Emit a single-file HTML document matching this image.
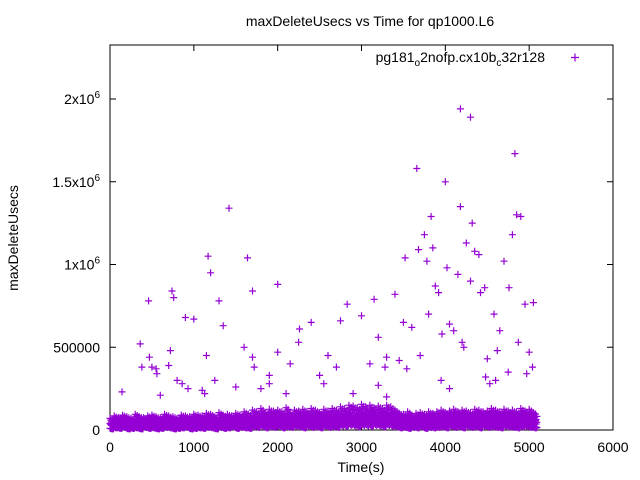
<!DOCTYPE html>
<html><head><meta charset="utf-8">
<style>
html,body{margin:0;padding:0;background:#fff;}
svg{display:block;font-family:"Liberation Sans",sans-serif;}
</style></head>
<body>
<svg id="chart" width="640" height="480" viewBox="0 0 640 480" xmlns="http://www.w3.org/2000/svg">
<text x="370" y="26" font-size="14" text-anchor="middle">maxDeleteUsecs vs Time for qp1000.L6</text>
<text transform="translate(18,238) rotate(-90)" font-size="14" text-anchor="middle">maxDeleteUsecs</text>
<text x="361" y="472" font-size="14" text-anchor="middle">Time(s)</text>
<g id="axes"></g>
<g id="marks"></g>
<g>
<text x="545" y="62" font-size="14" text-anchor="end">pg181<tspan font-size="10" dy="4">o</tspan><tspan dy="-4">2nofp.cx10b</tspan><tspan font-size="10" dy="4">c</tspan><tspan dy="-4">32r128</tspan></text>
<path d="M571 57.5h8M575 53.5v8" stroke="#9400d3" stroke-width="1.2"/>
</g>
</svg>
<script>
const xTicks = [0,1000,2000,3000,4000,5000,6000];
const yTicks = [0,500000,1000000,1500000,2000000];
const yTickLabels = ["0","500000","1x10|6","1.5x10|6","2x10|6"];
const bandStep = 50;
const bandHigh = [70,85,75,90,80,70,95,80,75,85,90,80,75,95,85,80,70,90,85,80,95,
90,85,100,95,80,105,90,95,85,100,90,110,95,
120,110,130,105,125,115,120,110,135,100,120,115,125,110,130,120,105,125,115,130,120,
140,130,150,145,135,155,140,150,135,145,130,150,140,
120,100,95,110,90,100,105,95,110,100,
110,120,105,115,125,110,120,115,105,125,120,110,115,130,120,110,125,115,120,110,130,115,125,105];
const bandMid = [40,50,45,55,40,35,50,45,40,55,45,50,40,55,45,50,40,45,50,45,55,
50,45,60,55,45,60,50,55,45,60,50,65,55,
65,60,70,55,65,60,70,55,75,50,65,60,70,55,70,65,55,70,60,70,65,
80,75,90,85,80,95,85,90,80,85,75,90,85,
70,55,50,60,45,55,60,50,65,55,
60,70,55,65,75,60,70,65,55,75,70,60,65,80,70,60,75,65,70,60,80,70,75,60];
const bandLow = [10,20,15,25,10,15,20,10,25,15,20,10,15,25,20,10,15,20,25,10,15,
20,15,25,20,10,25,15,20,30,15,25,20,15,
30,25,35,20,30,25,35,20,30,25,35,30,20,35,25,30,20,35,25,30,25,
40,35,45,40,30,45,40,35,45,40,30,45,35,
30,20,25,15,25,20,30,15,25,20,
25,30,20,35,25,30,20,35,25,30,20,35,25,30,25,20,35,30,25,20,30,35,25,20];
const outT = [143,360,380,460,470,500,550,560,700,720,740,760,800,860,900,930,1000,1130,1150,1170,1200,1250,1300,1350,1420,1500,1600,1640,1700,1700,1720,1800,1900,2000,2000,2150,2250,2260,2400,2500,2550,2700,2750,2830,2900,3000,3150,3200,3280,3300,3400,3450,3500,3520,3540,3600,3660,3680,3700,3750,3780,3800,3830,3850,3880,3920,3960,4000,4020,4050,4100,4150,4180,4180,4220,4250,4300,4320,4350,4400,4420,4470,4500,4530,4580,4620,4650,4700,4760,4800,4830,4850,4870,4900,4950,4970,5000,5050,5040,3100,3200,2600,1100,600,4600,4300,4200,4750,4480,3950,3300,2100,1900,4050];
const outV = [230,520,380,780,440,380,370,340,390,480,840,800,300,280,680,250,670,220,450,1050,950,300,780,630,1340,260,500,1040,840,440,380,250,330,880,470,400,530,610,650,330,280,380,660,760,220,690,790,560,380,440,820,420,650,1040,370,620,1580,1090,450,1180,1020,700,1290,1100,870,830,580,1500,980,640,600,940,1350,1940,500,1130,1890,1250,1080,1060,830,860,430,280,700,480,600,1020,860,1180,1670,1300,530,1290,760,340,470,770,380,400,270,450,240,210,300,900,530,350,320,300,200,220,280,250];

const X0=110, X1=613, Y0=430, YTOP=45;
function xs(t){return X0+(X1-X0)*t/6000;}
function ys(v){return Y0-(Y0-99)*v/2000000;}
const NS="http://www.w3.org/2000/svg";
const axes=document.getElementById('axes'), marks=document.getElementById('marks');
const frame=document.createElementNS(NS,'rect');
frame.setAttribute('x',X0);frame.setAttribute('y',YTOP);frame.setAttribute('width',X1-X0);frame.setAttribute('height',Y0-YTOP);
frame.setAttribute('fill','none');frame.setAttribute('stroke','#000');frame.setAttribute('stroke-width','1');


axes.appendChild(frame);
xTicks.forEach(t=>{
  const x=xs(t);
  const p=document.createElementNS(NS,'path');
  p.setAttribute('d',`M${x} ${Y0}v-6M${x} ${YTOP}v6`);p.setAttribute('stroke','#000');
  
  
  axes.appendChild(p);
  const tx=document.createElementNS(NS,'text');
  tx.setAttribute('x',x);tx.setAttribute('y',Y0+22);tx.setAttribute('font-size','14');tx.setAttribute('text-anchor','middle');
  tx.textContent=String(t);
  
  
  axes.appendChild(tx);
});
yTicks.forEach((v,i)=>{
  const y=ys(v);
  const p=document.createElementNS(NS,'path');
  p.setAttribute('d',`M${X0} ${y}h6M${X1} ${y}h-6`);p.setAttribute('stroke','#000');
  
  
  axes.appendChild(p);
  const tx=document.createElementNS(NS,'text');
  tx.setAttribute('x',X0-10);tx.setAttribute('y',y+5);tx.setAttribute('font-size','14');tx.setAttribute('text-anchor','end');
  const parts=yTickLabels[i].split('|');
  tx.appendChild(document.createTextNode(parts[0]));
  if(parts[1]){const s=document.createElementNS(NS,'tspan');s.setAttribute('font-size','10');s.setAttribute('dy','-6');s.textContent=parts[1];tx.appendChild(s);}
  
  
  axes.appendChild(tx);
});
let d='';
function plus(t,v){const x=xs(t),y=ys(v);d+=`M${(x-3.5).toFixed(1)} ${y.toFixed(1)}h7M${x.toFixed(1)} ${(y-3.5).toFixed(1)}v7`;}
const offs=[0,8,17,25,33,42];
const scl=[1,0.85,0.7,0.92,0.6,0.78];
[bandLow,bandMid,bandHigh].forEach(arr=>arr.forEach((v,i)=>{offs.forEach((o,k)=>plus(i*bandStep+o,v*1000*scl[k]));}));
outT.forEach((t,i)=>plus(t,outV[i]*1000));
const path=document.createElementNS(NS,'path');
path.setAttribute('d',d);path.setAttribute('stroke','#9400d3');path.setAttribute('stroke-width','1.2');path.setAttribute('fill','none');


marks.appendChild(path);
</script>
</body></html>
